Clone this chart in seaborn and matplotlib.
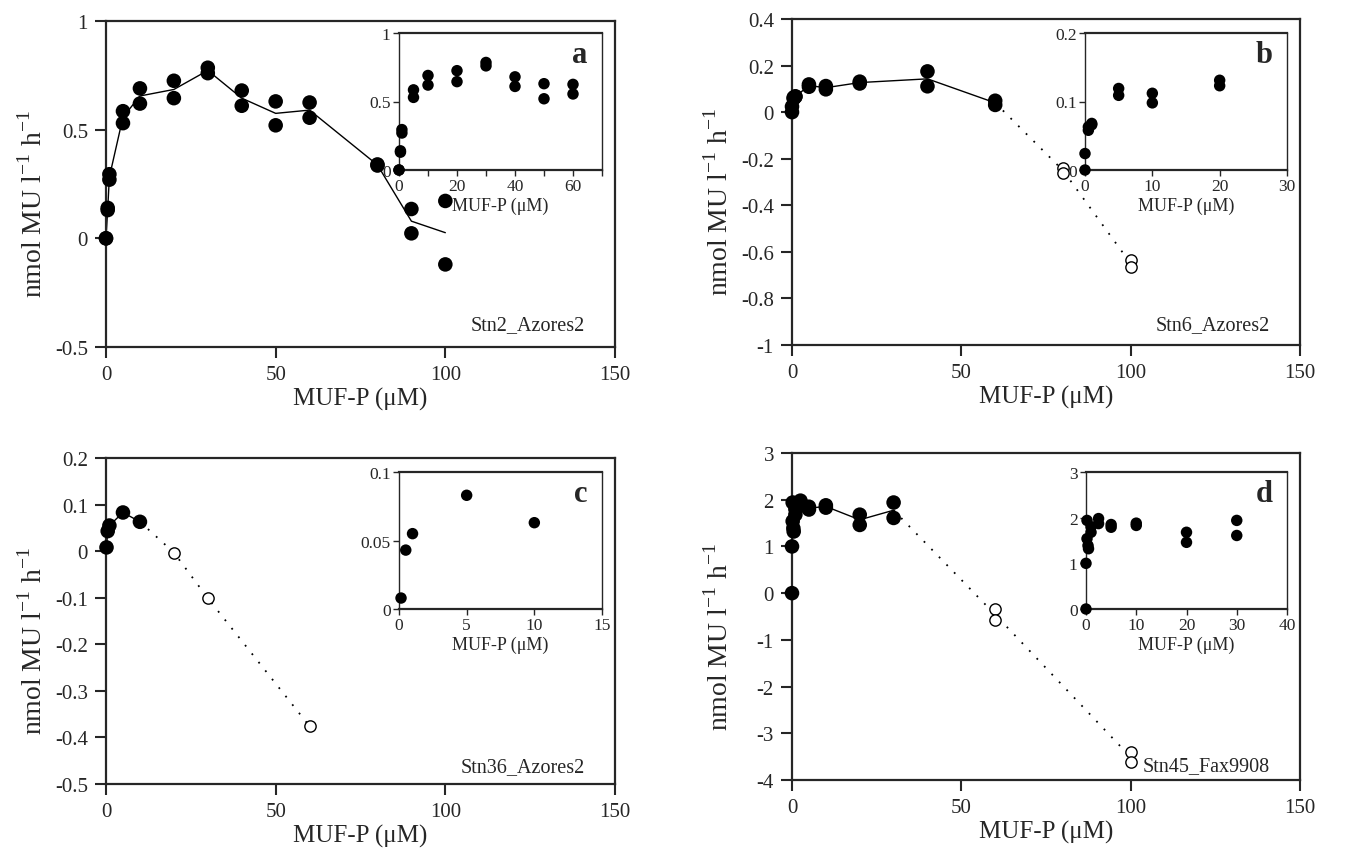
import numpy as np
import pandas as pd
import matplotlib
matplotlib.use("Agg")
import matplotlib.pyplot as plt
import seaborn as sns
from matplotlib.ticker import FuncFormatter, MultipleLocator

# ---- data ----
# a: Stn2_Azores2
a_x = [0, 0, 0.5, 0.5, 1, 1, 5, 5, 10, 10, 20, 20, 30, 30, 40, 40, 50, 50, 60, 60, 80, 80, 90, 90, 100, 100]
a_y = [0, 0, 0.14, 0.13, 0.295, 0.27, 0.585, 0.53, 0.69, 0.62, 0.725, 0.645, 0.785, 0.76,
       0.68, 0.61, 0.63, 0.52, 0.625, 0.555, 0.34, 0.335, 0.135, 0.023, 0.172, -0.12]
a_open_x = []
a_open_y = []

# b: Stn6_Azores2
b_x = [0, 0, 0.5, 0.5, 1, 1, 5, 5, 10, 10, 20, 20, 40, 40, 60, 60]
b_y = [0, 0.024, 0.058, 0.063, 0.066, 0.068, 0.119, 0.109, 0.112, 0.098, 0.131, 0.123,
       0.175, 0.111, 0.049, 0.031]
b_open_x = [80, 80, 100, 100]
b_open_y = [-0.24, -0.26, -0.635, -0.665]

# c: Stn36_Azores2
c_x = [0.15, 0.5, 1, 5, 10]
c_y = [0.008, 0.043, 0.055, 0.083, 0.063]
c_open_x = [20, 30, 60]
c_open_y = [-0.003, -0.101, -0.376]

# d: Stn45_Fax9908
d_x = [0, 0, 0.2, 0.2, 0.4, 0.5, 1, 1, 2.5, 2.5, 5, 5, 10, 10, 20, 20, 30, 30]
d_y = [0.0, 1.0, 1.94, 1.54, 1.39, 1.32, 1.68, 1.8, 1.98, 1.87, 1.85, 1.79, 1.88, 1.83,
       1.68, 1.46, 1.94, 1.61]
d_open_x = [60, 60, 100, 100]
d_open_y = [-0.34, -0.58, -3.40, -3.62]

# ---- style ----
sns.set_style("ticks")
plt.rcParams["font.family"] = ["Liberation Serif", "DejaVu Serif"]
plt.rcParams["mathtext.fontset"] = "custom"
plt.rcParams["mathtext.rm"] = "Liberation Serif"
plt.rcParams["axes.unicode_minus"] = False

W, H = 1358, 854
fig = plt.figure(figsize=(W / 100, H / 100), dpi=100)


def rect(l, t, r, b):
    return [l / W, 1 - b / H, (r - l) / W, (b - t) / H]


def fmt(v, pos):
    return f"{round(v, 6) + 0:g}"


def draw_main(box, x, y, ox, oy, ylim, ystep, station, sy):
    ax = fig.add_axes(rect(*box))
    df = pd.DataFrame({"x": x, "y": y})
    sns.lineplot(data=df, x="x", y="y", estimator="mean", errorbar=None,
                 color="k", lw=1.0, ax=ax)
    if ox:
        last = df[df.x == df.x.max()]
        dd = pd.concat([last, pd.DataFrame({"x": ox, "y": oy})])
        sns.lineplot(data=dd, x="x", y="y", estimator="mean", errorbar=None,
                     color="k", lw=1.3, linestyle=(0, (1, 5)), ax=ax)
        sns.scatterplot(x=ox, y=oy, s=66, color="white", edgecolor="k",
                        linewidth=1.0, zorder=3, clip_on=False, ax=ax)
    sns.scatterplot(data=df, x="x", y="y", s=110, color="k", edgecolor="none",
                    zorder=4, clip_on=False, ax=ax)
    ax.set_xlim(0, 150)
    ax.set_ylim(*ylim)
    ax.xaxis.set_major_locator(MultipleLocator(50))
    ax.yaxis.set_major_locator(MultipleLocator(ystep))
    ax.xaxis.set_major_formatter(FuncFormatter(fmt))
    ax.yaxis.set_major_formatter(FuncFormatter(fmt))
    for s in ax.spines.values():
        s.set_linewidth(1.6)
        s.set_visible(True)
    ax.tick_params(direction="out", length=8, width=1.5, labelsize=15, pad=5)
    ax.set_xlabel("MUF-P (μM)", fontsize=18, labelpad=2)
    ax.set_ylabel(r"nmol MU l$^{-1}$ h$^{-1}$", fontsize=20)
    ax.yaxis.set_label_coords(-0.115, 0.44)
    ax.text(0.94, sy, station, transform=ax.transAxes, ha="right",
            va="baseline", fontsize=14.5)
    return ax


def draw_inset(box, x, y, xmax, xstep, xlab_step, ytop, ystep, letter):
    ax = fig.add_axes(rect(*box))
    df = pd.DataFrame({"x": x, "y": y})
    df = df[df.x <= xmax]
    sns.scatterplot(data=df, x="x", y="y", s=68, color="k", edgecolor="none",
                    zorder=4, clip_on=False, ax=ax)
    ax.set_xlim(0, xmax)
    ax.set_ylim(0, ytop)
    ax.xaxis.set_major_locator(MultipleLocator(xstep))
    ax.yaxis.set_major_locator(MultipleLocator(ystep))
    ax.xaxis.set_major_formatter(FuncFormatter(
        lambda v, p: fmt(v, p) if round(v / xlab_step, 6) % 1 == 0 else ""))
    ax.yaxis.set_major_formatter(FuncFormatter(fmt))
    ax.spines["left"].set_linewidth(1.0)
    ax.spines["right"].set_linewidth(1.0)
    ax.spines["top"].set_linewidth(1.6)
    ax.spines["bottom"].set_linewidth(1.6)
    ax.tick_params(direction="out", length=4, width=1.0, labelsize=12.5, pad=2)
    ax.set_xlabel("MUF-P (μM)", fontsize=13, labelpad=2)
    ax.set_ylabel("")
    ax.text(0.93, 0.79, letter, transform=ax.transAxes, ha="right",
            va="baseline", fontsize=22, fontweight="bold")
    return ax


draw_main((106, 22, 615, 348), a_x, a_y, a_open_x, a_open_y, (-0.5, 1), 0.5, "Stn2_Azores2", 0.055)
draw_main((792, 20, 1300, 346), b_x, b_y, b_open_x, b_open_y, (-1, 0.4), 0.2, "Stn6_Azores2", 0.05)
draw_main((106, 459, 615, 785), c_x, c_y, c_open_x, c_open_y, (-0.5, 0.2), 0.1, "Stn36_Azores2", 0.04)
draw_main((792, 454, 1300, 781), d_x, d_y, d_open_x, d_open_y, (-4, 3), 1, "Stn45_Fax9908", 0.03)

draw_inset((399, 34, 602, 171), a_x, a_y, 70, 10, 20, 1, 0.5, "a")
draw_inset((1085, 34, 1287, 171), b_x, b_y, 30, 10, 10, 0.2, 0.1, "b")
draw_inset((399, 473, 602, 610), c_x, c_y, 15, 5, 5, 0.1, 0.05, "c")
draw_inset((1086, 473, 1287, 610), d_x, d_y, 40, 10, 10, 3, 1, "d")

fig.savefig("out.png", dpi=100, facecolor="white")
